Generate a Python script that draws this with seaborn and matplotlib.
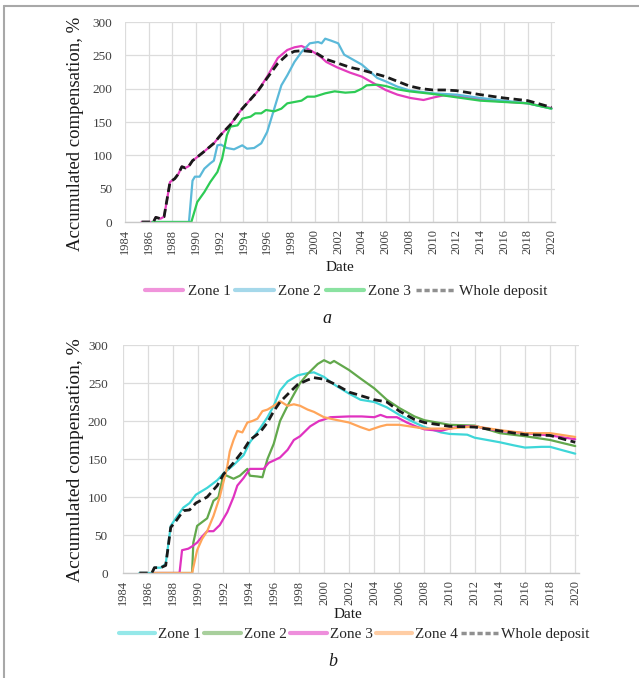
import numpy as np
import pandas as pd
import matplotlib
matplotlib.use("Agg")
import matplotlib.pyplot as plt
import seaborn as sns
from matplotlib.lines import Line2D

# ---------------- data: panel a ----------------
a_z1_years = [1985.4, 1986.4, 1986.6, 1987.0, 1987.3, 1987.8, 1988.2, 1988.5, 1988.8, 1989.1, 1989.4,
              1989.7, 1990.0, 1990.7, 1991.5, 1992.1, 1992.9, 1993.8, 1994.6, 1995.2, 1996.0, 1996.9,
              1997.7, 1998.3, 1998.9, 1999.4, 2000.0, 2000.5, 2001.0, 2001.9, 2003.0, 2004.0, 2004.7,
              2006.0, 2007.0, 2008.1, 2009.2, 2010.1, 2010.9, 2012.3, 2014.0, 2015.7, 2018.0, 2020.0]
a_z1_vals = [0, 0, 7, 5, 8, 60, 65, 72, 83, 81, 84,
             92, 96, 106, 118, 131, 146, 168, 184, 196, 218, 246,
             258, 262, 264, 260, 254, 248, 240, 232, 224, 218, 211,
             198, 191, 186, 183, 187, 190, 188, 184, 181, 178, 171]

a_z2_years = [1986.3, 1989.4, 1989.7, 1989.9, 1990.3, 1990.7, 1991.2, 1991.5, 1991.8, 1992.1, 1992.6,
              1993.2, 1993.9, 1994.3, 1994.9, 1995.5, 1996.0, 1996.6, 1997.2, 1997.7, 1998.3, 1998.9,
              1999.6, 2000.3, 2000.6, 2000.9, 2001.4, 2002.0, 2002.5, 2003.1, 2004.0, 2005.3, 2006.0,
              2007.0, 2008.1, 2010.0, 2012.0, 2014.0, 2016.0, 2018.0, 2020.0]
a_z2_vals = [0, 0, 62, 68, 68, 80, 88, 92, 115, 116, 111,
             109, 115, 110, 111, 118, 135, 170, 205, 220, 240, 255,
             268, 270, 268, 275, 272, 268, 251, 245, 236, 216, 211,
             203, 197, 193, 191, 186, 182, 178, 170]

a_z3_years = [1986.3, 1989.6, 1989.8, 1990.1, 1990.7, 1991.2, 1991.8, 1992.2, 1992.6, 1992.9, 1993.5,
              1993.9, 1994.6, 1995.0, 1995.5, 1995.9, 1996.6, 1997.2, 1997.7, 1998.9, 1999.4, 2000.0,
              2000.9, 2001.7, 2002.6, 2003.4, 2004.0, 2004.4, 2005.3, 2006.0, 2007.0, 2008.0, 2010.0,
              2012.0, 2014.0, 2016.0, 2018.0, 2020.0]
a_z3_vals = [0, 0, 12, 30, 45, 60, 75, 95, 130, 143, 145,
             155, 158, 163, 163, 168, 166, 170, 178, 182, 188, 188,
             193, 196, 194, 195, 200, 205, 206, 204, 199, 196, 192,
             187, 182, 180, 178, 170]

a_wd_years = [1985.4, 1986.4, 1986.6, 1987.0, 1987.3, 1987.8, 1988.2, 1988.5, 1988.8, 1989.1, 1989.4,
              1989.7, 1990.0, 1990.7, 1991.5, 1992.1, 1992.9, 1993.8, 1994.6, 1995.2, 1996.0, 1996.9,
              1997.7, 1998.3, 1999.0, 2000.0, 2001.0, 2002.0, 2003.0, 2004.0, 2005.0, 2006.0, 2007.0,
              2008.0, 2009.0, 2010.0, 2011.0, 2012.0, 2014.0, 2016.0, 2018.0, 2020.0]
a_wd_vals = [0, 0, 7, 5, 8, 60, 65, 72, 83, 81, 84,
             92, 96, 106, 118, 131, 146, 168, 184, 196, 216, 238,
             251, 256, 257, 255, 244, 238, 232, 228, 223, 218, 211,
             204, 200, 198, 198, 197, 191, 186, 182, 172]

# ---------------- data: panel b ----------------
b_z1_years = [1985.3, 1986.3, 1986.5, 1987.0, 1987.4, 1987.8, 1988.2, 1988.8, 1989.3, 1989.8, 1990.7,
              1991.5, 1992.0, 1992.8, 1993.6, 1994.1, 1994.9, 1995.5, 1996.0, 1996.5, 1997.1, 1997.9,
              1998.7, 1999.2, 2000.0, 2000.8, 2002.0, 2002.9, 2004.0, 2005.0, 2006.0, 2007.2, 2008.0,
              2009.3, 2010.0, 2011.4, 2012.0, 2013.0, 2014.0, 2015.1, 2016.0, 2017.3, 2018.0, 2019.1, 2020.0]
b_z1_vals = [0, 0, 7, 7, 12, 62, 72, 86, 92, 103, 112,
             122, 131, 142, 155, 172, 190, 205, 220, 240, 252, 260,
             263, 264, 258, 248, 236, 228, 225, 218, 208, 198, 192,
             185, 183, 182, 178, 175, 172, 168, 165, 166, 166, 161, 157]

b_z2_years = [1986.4, 1989.5, 1989.6, 1989.9, 1990.3, 1990.7, 1991.2, 1991.6, 1992.0, 1992.4, 1992.8,
              1993.3, 1993.9, 1994.1, 1994.7, 1995.1, 1995.5, 1996.0, 1996.5, 1997.1, 1997.6, 1998.1,
              1998.7, 1999.5, 2000.0, 2000.5, 2000.8, 2002.0, 2002.9, 2004.0, 2005.0, 2006.0, 2007.2,
              2008.0, 2010.0, 2012.0, 2014.0, 2016.0, 2018.0, 2020.0]
b_z2_vals = [0, 0, 40, 62, 67, 72, 95, 100, 130, 127, 124,
             128, 137, 128, 127, 126, 150, 170, 200, 220, 235, 250,
             262, 275, 280, 276, 279, 267, 256, 243, 228, 217, 206,
             201, 195, 194, 184, 180, 175, 167]

b_z3_years = [1986.4, 1988.5, 1988.7, 1989.2, 1989.5, 1989.9, 1990.3, 1990.7, 1991.2, 1991.7, 1992.3,
              1992.8, 1993.1, 1993.6, 1994.1, 1994.7, 1995.2, 1995.6, 1996.0, 1996.5, 1997.1, 1997.6,
              1998.1, 1998.9, 1999.6, 2000.0, 2000.5, 2002.0, 2003.0, 2004.0, 2004.5, 2005.0, 2005.8,
              2006.6, 2007.3, 2008.0, 2009.3, 2010.0, 2010.9, 2012.0, 2014.0, 2016.0, 2018.0, 2020.0]
b_z3_vals = [0, 0, 30, 32, 35, 40, 48, 55, 55, 63, 80,
             100, 115, 125, 137, 137, 137, 145, 148, 152, 162, 175,
             180, 193, 200, 202, 205, 206, 206, 205, 208, 205, 205,
             198, 193, 189, 187, 190, 193, 193, 187, 184, 181, 176]

b_z4_years = [1986.4, 1989.5, 1989.9, 1990.3, 1990.7, 1991.2, 1991.7, 1992.3, 1992.5, 1992.8, 1993.1,
              1993.5, 1993.9, 1994.3, 1994.7, 1995.1, 1995.5, 1996.0, 1996.5, 1997.1, 1997.6, 1998.1,
              1998.7, 1999.2, 2000.0, 2000.8, 2002.0, 2002.9, 2003.6, 2004.5, 2005.0, 2006.0, 2007.2,
              2008.0, 2010.0, 2012.0, 2014.0, 2016.0, 2018.0, 2020.0]
b_z4_vals = [0, 0, 30, 45, 55, 75, 100, 140, 160, 175, 187,
             185, 198, 200, 203, 213, 215, 220, 226, 220, 222, 220,
             215, 212, 205, 202, 198, 192, 188, 193, 195, 195, 192,
             190, 190, 193, 188, 184, 184, 179]

b_wd_years = [1985.3, 1986.3, 1986.5, 1987.0, 1987.4, 1987.8, 1988.2, 1988.8, 1989.3, 1989.8, 1990.7,
              1991.5, 1992.0, 1992.8, 1993.6, 1994.1, 1994.9, 1995.5, 1996.0, 1996.5, 1997.1, 1997.9,
              1998.7, 1999.2, 2000.0, 2000.8, 2002.0, 2004.0, 2005.0, 2006.0, 2007.2, 2008.0, 2010.0,
              2012.0, 2014.0, 2016.0, 2018.0, 2020.0]
b_wd_vals = [0, 0, 7, 7, 10, 60, 68, 82, 83, 92, 100,
             115, 130, 145, 162, 175, 185, 198, 213, 225, 235, 248,
             254, 257, 255, 249, 238, 228, 225, 213, 202, 198, 193,
             192, 187, 182, 181, 172]

year_ticks = list(range(1984, 2021, 2))
y_ticks = [0, 50, 100, 150, 200, 250, 300]

# ---------------- style ----------------
sns.set_style("white")
plt.rcParams["font.family"] = ["Liberation Serif", "DejaVu Serif"]

W, H = 639, 678
fig = plt.figure(figsize=(W / 100, H / 100), dpi=100)


def axes_px(left, top, right, bottom):
    return fig.add_axes([left / W, 1 - bottom / H, (right - left) / W, (bottom - top) / H])


def style_axes(ax, ypad):
    ax.set_xlim(1984, 2020.3)
    ax.set_ylim(0, 300)
    ax.set_xticks(year_ticks)
    ax.set_xticklabels([str(t) for t in year_ticks], rotation=90, fontsize=9, color="#404040")
    ax.set_yticks(y_ticks)
    ax.set_yticklabels([str(t) for t in y_ticks], fontsize=9.5, color="#404040")
    ax.grid(True, color="#DCDCDC", linewidth=0.9)
    ax.set_axisbelow(True)
    for s in ["top", "right", "left"]:
        ax.spines[s].set_visible(False)
    ax.spines["bottom"].set_color("#C8C8C8")
    ax.spines["bottom"].set_linewidth(1.0)
    ax.tick_params(axis="both", length=0, pad=5)
    ax.tick_params(axis="y", pad=ypad)
    ax.set_xlabel("")
    ax.set_ylabel("")


def draw(ax, years, vals, color, dashed=False):
    df = pd.DataFrame({"Date": years, "Value": vals})
    sns.lineplot(data=df, x="Date", y="Value", ax=ax, color=color, sort=False,
                 estimator=None, linewidth=2.0 if dashed else 1.6,
                 linestyle=(0, (3, 1.6)) if dashed else "-")


# ---------------- panel a ----------------
ax1 = axes_px(125, 22, 555, 222)
c_a = ["#E43CBE", "#5BB9D9", "#2DCB55"]
draw(ax1, a_z1_years, a_z1_vals, c_a[0])
draw(ax1, a_z2_years, a_z2_vals, c_a[1])
draw(ax1, a_z3_years, a_z3_vals, c_a[2])
draw(ax1, a_wd_years, a_wd_vals, "#1A1A1A", dashed=True)
style_axes(ax1, 9)
fig.text(75 / W, 1 - 134 / H, "Accumulated compensation, %", rotation=90,
         ha="center", va="center", fontsize=13.5, color="#1A1A1A")
fig.text(340 / W, 1 - 267 / H, "Date", ha="center", va="center", fontsize=11, color="#1A1A1A")
h_a = [Line2D([], [], color=c, lw=3, alpha=0.55) for c in c_a] + \
      [Line2D([], [], color="#555555", lw=2.5, alpha=0.65, linestyle=(0, (1.5, 0.8)))]
fig.legend(h_a, ["Zone 1", "Zone 2", "Zone 3", "Whole deposit"], loc="center",
           bbox_to_anchor=(346 / W, 1 - 291 / H), ncol=4, frameon=False, fontsize=11,
           handlelength=2.5, handletextpad=0.3, columnspacing=0.3)
fig.text(327 / W, 1 - 318 / H, "a", ha="center", va="center", fontsize=13,
         style="italic", color="#1A1A1A")

# ---------------- panel b ----------------
ax2 = axes_px(123, 345, 579, 573)
c_b = ["#3ED6D8", "#62A84C", "#E032C0", "#FFA55A"]
draw(ax2, b_z1_years, b_z1_vals, c_b[0])
draw(ax2, b_z2_years, b_z2_vals, c_b[1])
draw(ax2, b_z3_years, b_z3_vals, c_b[2])
draw(ax2, b_z4_years, b_z4_vals, c_b[3])
draw(ax2, b_wd_years, b_wd_vals, "#1A1A1A", dashed=True)
style_axes(ax2, 11)
fig.text(76 / W, 1 - 460 / H, "Accumulated compensation, %", rotation=90,
         ha="center", va="center", fontsize=14, color="#1A1A1A")
fig.text(348 / W, 1 - 615 / H, "Date", ha="center", va="center", fontsize=11, color="#1A1A1A")
h_b = [Line2D([], [], color=c, lw=3, alpha=0.55) for c in c_b] + \
      [Line2D([], [], color="#555555", lw=2.5, alpha=0.65, linestyle=(0, (1.5, 0.8)))]
fig.legend(h_b, ["Zone 1", "Zone 2", "Zone 3", "Zone 4", "Whole deposit"], loc="center",
           bbox_to_anchor=(354 / W, 1 - 634 / H), ncol=5, frameon=False, fontsize=11,
           handlelength=2.4, handletextpad=0.2, columnspacing=0.2)
fig.text(333 / W, 1 - 662 / H, "b", ha="center", va="center", fontsize=13,
         style="italic", color="#1A1A1A")

# frame (left and top borders)
fig.add_artist(Line2D([4 / W, 4 / W], [0, 1 - 6 / H], color="#A8A8A8", lw=1.5))
fig.add_artist(Line2D([4 / W, 1], [1 - 6 / H, 1 - 6 / H], color="#A8A8A8", lw=1.5))

fig.savefig("out.png", dpi=100)
